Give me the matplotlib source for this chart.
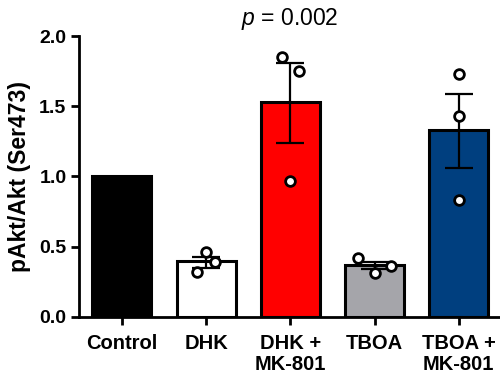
import matplotlib
matplotlib.use('Agg')
import matplotlib.pyplot as plt

plt.rcParams['font.family'] = ['Liberation Sans', 'DejaVu Sans']
plt.rcParams['mathtext.fontset'] = 'custom'
plt.rcParams['mathtext.it'] = 'Liberation Sans:italic'
plt.rcParams['mathtext.rm'] = 'Liberation Sans'

groups = ['Control', 'DHK', 'DHK +\nMK-801', 'TBOA', 'TBOA +\nMK-801']
means = [1.0, 0.40, 1.53, 0.37, 1.33]
err_lo = [0, 0.05, 0.29, 0.03, 0.27]
err_hi = [0, 0.03, 0.28, 0.02, 0.26]
colors = ['#000000', '#ffffff', '#ff0000', '#a5a5aa', '#003f7f']

# individual points (x offset within group, value)
pts_dx = [[], [-0.11, 0.0, 0.11], [-0.10, 0.10, 0.0], [-0.20, 0.20, 0.0], [0.0, 0.0, 0.0]]
pts_y = [[], [0.32, 0.465, 0.39], [1.85, 1.75, 0.965], [0.42, 0.365, 0.31], [1.73, 1.43, 0.83]]

fig = plt.figure(figsize=(5, 3.81), dpi=100)
ax = fig.add_axes([0.158, 0.168, 0.842, 0.7375])

x = list(range(len(groups)))
ax.bar(x, means, width=0.7, color=colors, edgecolor='black', linewidth=2.2, zorder=2)
for i in x:
    if err_lo[i] > 0:
        ax.errorbar(i, means[i], yerr=[[err_lo[i]], [err_hi[i]]], fmt='none',
                    ecolor='black', elinewidth=1.6, capsize=10, capthick=1.6, zorder=3)
    xs = [i + d for d in pts_dx[i]]
    ax.plot(xs, pts_y[i], 'o', ms=7, mfc='white', mec='black', mew=2, zorder=4, clip_on=False)

ax.set_xlim(-0.51, 4.49)
ax.set_ylim(0, 2.0)
ax.set_yticks([0.0, 0.5, 1.0, 1.5, 2.0])
ax.set_yticklabels(['0.0', '0.5', '1.0', '1.5', '2.0'], fontweight='bold', fontsize=14)
ax.set_xticks(x)
ax.set_xticklabels(groups, fontweight='bold', fontsize=14.5, linespacing=1.15)
ax.set_ylabel('pAkt/Akt (Ser473)', fontweight='bold', fontsize=16.5, labelpad=6)

for s in ['top', 'right']:
    ax.spines[s].set_visible(False)
ax.spines['left'].set_linewidth(2)
ax.spines['bottom'].set_linewidth(2)
ax.tick_params(width=2, length=6, direction='out', pad=3)
ax.tick_params(axis='x', pad=6)

fig.text(0.58, 0.95, r'$p$ = 0.002', ha='center', va='center', fontsize=16.5)

fig.savefig('out.png', dpi=100)
